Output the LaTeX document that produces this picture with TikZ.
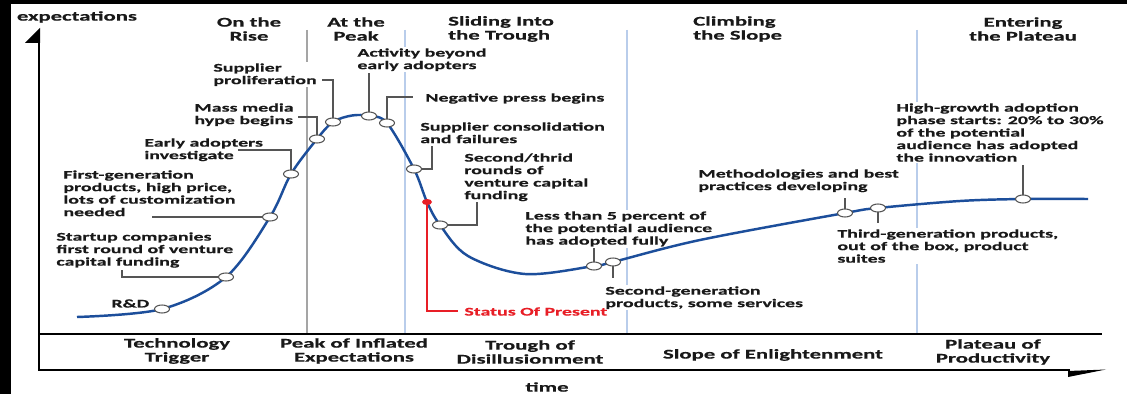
\documentclass[tikz,border=0pt]{standalone}
\usepackage{fontspec}
\setmainfont{Carlito}[FakeStretch=1.7, BoldFeatures={FakeBold=0.5}]
\usetikzlibrary{shapes.geometric}
\definecolor{curveblue}{RGB}{28,78,155}
\definecolor{sepgray}{RGB}{165,165,165}
\definecolor{sepblue}{RGB}{185,205,235}
\definecolor{leadgray}{RGB}{85,85,85}
\definecolor{statusred}{RGB}{232,30,38}
\definecolor{inkblack}{RGB}{25,25,25}
\tikzset{
  note/.style={anchor=north west, align=left, inner sep=1pt, fill=white, text=inkblack,
    font=\bfseries\fontsize{10}{10.67}\selectfont},
  phase/.style={align=center, inner sep=0pt, text=inkblack,
    font=\bfseries\fontsize{11.4}{11.95}\selectfont},
  leader/.style={draw=leadgray, line width=1.1pt},
  marker/.style={ellipse, draw=leadgray, fill=white, line width=0.9pt,
    minimum width=0.45cm, minimum height=0.24cm, inner sep=0pt},
  divider/.style={line width=1.1pt},
}

\begin{document}
\begin{tikzpicture}[x=0.03cm, y=-0.03cm]
			%%%%% START %%%%%
			
			\fill[black] (0, 0) rectangle (1127, 394);
			\fill[white] (11, 4) rectangle (1127, 394);
			\useasboundingbox (0, 0) rectangle (1127, 394);
			
			% phase dividers
			\draw[divider, sepgray] (307, 30) -- (307, 334);
			\draw[divider, sepblue] (405, 30) -- (405, 334);
			\draw[divider, sepblue] (627, 30) -- (627, 334);
			\draw[divider, sepblue] (917, 30) -- (917, 334);
			
			% axes
			\draw[line width=1.7pt] (39, 30) -- (39, 370) -- (1070, 370);
			\draw[line width=1.3pt] (39, 334) -- (1102, 334);
			\fill[black] (25, 43) -- (40, 28) -- (40, 43) -- cycle;
			\fill[black] (1068, 371) -- (1106, 369.5) -- (1068, 377) -- cycle;
			
			% notes
			\node[note] (rd-t) at (110, 298) {R\&D};
			\node[note] (startup-t) at (55, 231) {Startup companies\\first round of venture\\capital funding};
			\node[note] (firstgen-t) at (62, 169) {First-generation\\products, high price,\\lots of customization\\needed};
			\node[note] (early-t) at (143, 137) {Early adopters\\investigate};
			\node[note] (media-t) at (193, 102) {Mass media\\hype begins};
			\node[note] (prolif-t) at (212, 62) {Supplier\\proliferation};
			\node[note] (activity-t) at (356, 47) {Activity beyond\\early adopters};
			\node[note] (negative-t) at (424, 92) {Negative press begins};
			\node[note] (consol-t) at (419, 121) {Supplier consolidation\\and failures};
			\node[note] (rounds-t) at (463, 152) {Second/thrid\\rounds of\\venture capital\\funding};
			\node[note] (lessfive-t) at (524, 210) {Less than 5 percent of\\the potential audience\\has adopted fully};
			\node[note] (secondgen-t) at (604, 285) {Second-generation\\products, some services};
			\node[note] (method-t) at (697, 168) {Methodologies and best\\practices developing};
			\node[note] (thirdgen-t) at (836, 228) {Third-generation products,\\out of the box, product\\suites};
			\node[note] (highgrowth-t) at (895, 102) {High-growth adoption\\phase starts: 20\% to 30\%\\of the potential\\audience has adopted\\the innovation};
			\node[note, fill=none, text=statusred] (present-t) at (463, 306) {Status Of Present};
			
			% points on the curve
			\coordinate (rd) at (162, 309);
			\coordinate (startup) at (226, 277);
			\coordinate (firstgen) at (270, 217);
			\coordinate (early) at (291, 174);
			\coordinate (media) at (317, 139);
			\coordinate (prolif) at (333, 122);
			\coordinate (activity) at (369, 116);
			\coordinate (negative) at (387, 123);
			\coordinate (consol) at (414, 169);
			\coordinate (present) at (427, 202);
			\coordinate (rounds) at (440, 225);
			\coordinate (lessfive) at (594, 266);
			\coordinate (secondgen) at (613, 262);
			\coordinate (method) at (845, 213);
			\coordinate (thirdgen) at (878, 208);
			\coordinate (highgrowth) at (1023, 199);
			
			% leader ends
			\coordinate (startup-end) at (122, 270);
			\coordinate (firstgen-end) at (152, 217);
			\coordinate (early-end) at (238, 150);
			\coordinate (media-end) at (298, 117);
			\coordinate (prolif-end) at (322, 80);
			\coordinate (activity-end) at (369, 73);
			\coordinate (negative-end) at (413, 97);
			\coordinate (consol-end) at (432, 146);
			\coordinate (rounds-end) at (477, 202);
			\coordinate (lessfive-end) at (594, 248);
			\coordinate (secondgen-end) at (613, 278);
			\coordinate (method-end) at (845, 198);
			\coordinate (thirdgen-end) at (878, 223);
			\coordinate (highgrowth-end) at (1023, 165);
			\coordinate (present-end) at (458, 311);
			
			\draw[leader] (startup) -| (startup-end);
			\draw[leader] (firstgen) -- (firstgen-end);
			\draw[leader] (early) |- (early-end);
			\draw[leader] (media) |- (media-end);
			\draw[leader] (prolif) |- (prolif-end);
			\draw[leader] (activity) -- (activity-end);
			\draw[leader] (negative) |- (negative-end);
			\draw[leader] (consol) -| (consol-end);
			\draw[leader] (rounds) -| (rounds-end);
			\draw[leader] (lessfive) -- (lessfive-end);
			\draw[leader] (secondgen) -- (secondgen-end);
			\draw[leader] (method) -- (method-end);
			\draw[leader] (thirdgen) -- (thirdgen-end);
			\draw[leader] (highgrowth) -- (highgrowth-end);
			
			% hype curve
			\draw[curveblue, line width=2.1pt] plot[smooth, tension=0.55] coordinates {
				(77, 317) (rd) (startup) (firstgen) (early) (media) (prolif) (352, 115.5)
				(activity) (negative) (consol) (present) (rounds) (468, 256) (525, 274)
				(lessfive) (secondgen) (700, 240) (method) (thirdgen) (960, 201)
				(highgrowth) (1088, 199)};
			
			% status of present
			\draw[statusred, line width=2.5pt] (present) |- (present-end);
			\fill[statusred] (present) ellipse (5 and 3);
			
			% markers
			\node[marker] (rd-m) at (rd) {};
			\node[marker] (startup-m) at (startup) {};
			\node[marker] (firstgen-m) at (firstgen) {};
			\node[marker] (early-m) at (early) {};
			\node[marker] (media-m) at (media) {};
			\node[marker] (prolif-m) at (prolif) {};
			\node[marker] (activity-m) at (activity) {};
			\node[marker] (negative-m) at (negative) {};
			\node[marker] (consol-m) at (consol) {};
			\node[marker] (rounds-m) at (rounds) {};
			\node[marker] (lessfive-m) at (lessfive) {};
			\node[marker] (secondgen-m) at (secondgen) {};
			\node[marker] (method-m) at (method) {};
			\node[marker] (thirdgen-m) at (thirdgen) {};
			\node[marker] (highgrowth-m) at (highgrowth) {};
			
			% phase names, top
			\node[phase] (rise) at (249, 29) {On the\\Rise};
			\node[phase] (peak) at (356, 29) {At the\\Peak};
			\node[phase, anchor=west, align=left] (sliding) at (448, 29) {Sliding Into\\the Trough};
			\node[phase, anchor=west, align=left] (climbing) at (693, 29) {Climbing\\the Slope};
			\node[phase] (entering) at (1023, 29) {Entering\\the Plateau};
			
			% phase names, bottom
			\node[phase] (trigger) at (177, 351) {Technology\\Trigger};
			\node[phase] (inflated) at (354, 351) {Peak of Inflated\\Expectations};
			\node[phase] (trough) at (530, 352) {Trough of\\Disillusionment};
			\node[phase] (slope) at (773, 355) {Slope of Enlightenment};
			\node[phase] (plateau) at (993, 352) {Plateau of\\Productivity};
			
			% axis names
			\node[phase] (expect) at (77, 17) {expectations};
			\node[phase] (time) at (547, 387) {time};
			
			%%%%% END %%%%%
\end{tikzpicture}
\end{document}
